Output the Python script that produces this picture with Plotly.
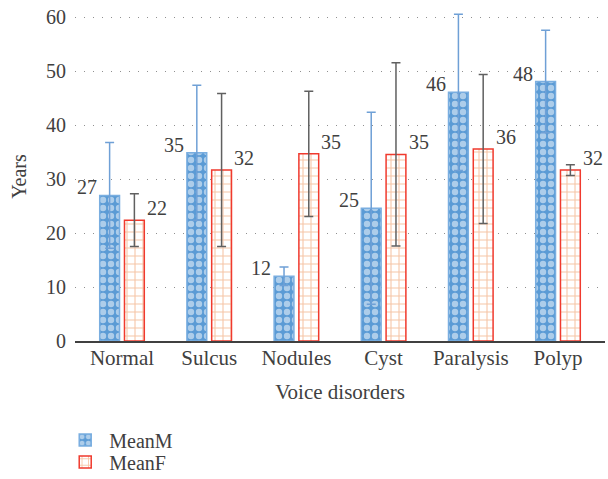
import plotly.graph_objects as go

categories = ["Normal", "Sulcus", "Nodules", "Cyst", "Paralysis", "Polyp"]
mean_m = [27.0, 34.9, 12.0, 24.6, 46.1, 48.1]
err_m = [9.8, 12.5, 1.7, 17.8, 14.5, 9.5]
mean_f = [22.4, 31.7, 34.7, 34.6, 35.6, 31.7]
err_f = [4.9, 14.2, 11.6, 17.0, 13.8, 1.0]
y_ticks = [0, 10, 20, 30, 40, 50, 60]

FONT = "Liberation Serif"
TXT = "#404040"

fig = go.Figure()
fig.add_trace(go.Bar(
    name="MeanM", x=categories, y=mean_m, legend="legend",
    marker=dict(color="#5b9bd5", line=dict(color="#7aaee0", width=1.5),
                pattern=dict(shape=".", bgcolor="#5b9bd5", fgcolor="white",
                             size=8, solidity=0.5, fillmode="overlay")),
    error_y=dict(type="data", array=err_m, visible=True, color="#6fa0d6",
                 thickness=1.5, width=4.5),
))
fig.add_trace(go.Bar(
    name="MeanF", x=categories, y=mean_f, legend="legend2",
    marker=dict(color="white", line=dict(color="#f03a2e", width=1.5),
                pattern=dict(shape="+", bgcolor="white", fgcolor="#ec8a4c",
                             size=8, solidity=0.25, fillmode="overlay")),
    error_y=dict(type="data", array=err_f, visible=True, color="#606060",
                 thickness=1.5, width=4.5),
))

for c, v in zip(categories, mean_m):
    fig.add_annotation(x=c, y=v, text=f"{v:.0f}", showarrow=False,
                       xanchor="right", yanchor="middle", xshift=-23, yshift=8,
                       font=dict(family=FONT, size=20, color=TXT))
for c, v in zip(categories, mean_f):
    fig.add_annotation(x=c, y=v, text=f"{v:.0f}", showarrow=False,
                       xanchor="left", yanchor="middle", xshift=23, yshift=12,
                       font=dict(family=FONT, size=20, color=TXT))

legend_common = dict(x=-0.026, xanchor="left", yanchor="middle",
                     yref="container", orientation="v", itemwidth=38,
                     bgcolor="rgba(0,0,0,0)",
                     font=dict(family=FONT, size=20, color=TXT))

fig.update_layout(
    width=608, height=479,
    margin=dict(l=75, r=3, t=12, b=138),
    paper_bgcolor="white", plot_bgcolor="white",
    barmode="group", bargap=0.432, bargroupgap=0.2,
    font=dict(family=FONT, size=20, color=TXT),
    showlegend=True,
    legend=dict(y=0.0814, **legend_common),
    legend2=dict(y=0.0355, **legend_common),
    xaxis=dict(title=dict(text="Voice disorders", font=dict(size=21), standoff=15),
               showline=True, linecolor="#404040", linewidth=1.5,
               ticks="", tickfont=dict(size=21), automargin=False,
               ticklabelstandoff=-3),
    yaxis=dict(title=dict(text="Years", font=dict(size=20), standoff=14),
               range=[0, 61], tickvals=y_ticks, showgrid=True,
               gridcolor="#909090", griddash="1px,8px", gridwidth=1.2,
               zeroline=False, ticks="", tickfont=dict(size=20),
               ticklabelstandoff=8, automargin=False,
               ticklabeloverflow="allow"),
)

fig.write_html("out.html", config={"displayModeBar": False},
               post_script="document.body.style.margin='0px';")
